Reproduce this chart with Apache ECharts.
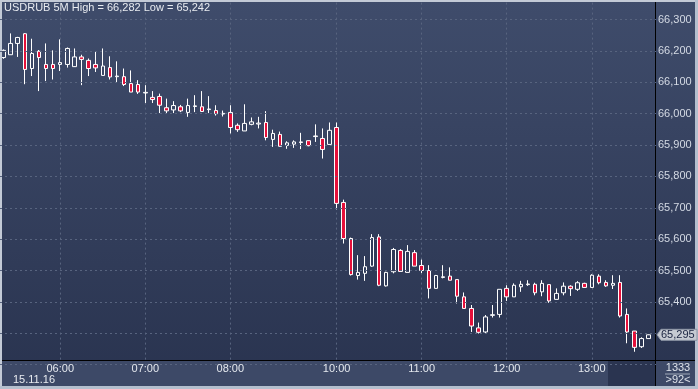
<!DOCTYPE html>
<html><head><meta charset="utf-8">
<script src="https://cdn.jsdelivr.net/npm/echarts@6/dist/echarts.min.js"></script>
<style>html,body{margin:0;padding:0;background:#2b3553;overflow:hidden}#c{width:698px;height:389px}</style>
</head><body><div id="c"></div>
<script>
const times = [
 '05:20','05:25','05:30','05:35','05:40','05:45','05:50','05:55',
 '06:00','06:05','06:10','06:15','06:20','06:25','06:30','06:35','06:40','06:45','06:50','06:55',
 '07:00','07:05','07:10','07:15','07:20','07:25','07:30','07:35','07:40','07:45','07:50','07:55',
 '08:00','08:05','08:10','08:15','08:20','08:25','08:30','08:35','08:40','08:45','08:50','08:55',
 '09:45','09:50','09:55',
 '10:00','10:05','10:10','10:15','10:20','10:25','10:30','10:35','10:40','10:45','10:50','10:55',
 '11:00','11:05','11:10','11:15','11:20','11:25','11:30','11:35','11:40','11:45','11:50','11:55',
 '12:00','12:05','12:10','12:15','12:20','12:25','12:30','12:35','12:40','12:45','12:50','12:55',
 '13:00','13:05','13:10','13:15','13:20','13:25','13:30','13:35','13:40'
];
const opens = [
 66179,66188,66224,66255,66144,66199,66157,66157,
 66157,66157,66150,66181,66170,66157,66122,66147,66118,66118,66096,66093,
 66066,66052,66055,66019,66012,66022,66004,66023,66022,66013,66010,65999,
 66004,65963,65945,65966,65967,65972,65918,65934,65899,65903,65908,65914,
 65927,65921,65902,
 65956,65717,65602,65484,65491,65514,65607,65451,65496,65564,65494,65557,
 65516,65500,65443,65478,65482,65471,65416,65379,65317,65304,65357,65360,
 65443,65416,65448,65455,65456,65432,65455,65408,65429,65450,65440,65459,
 65446,65482,65462,65453,65462,65360,65307,65257,65283
];
const closes = [
 66202,66224,66243,66141,66192,66179,66144,66144,
 66163,66208,66181,66173,66144,66146,66152,66117,66120,66093,66069,66069,
 66068,66045,66027,66009,66026,66009,66026,66025,66007,66015,66000,66001,
 65956,65949,65969,65974,65970,65924,65937,65896,65907,65910,65910,65898,
 65929,65886,65947,
 65714,65602,65487,65494,65512,65605,65453,65494,65567,65497,65561,65514,
 65500,65443,65484,65480,65469,65418,65379,65323,65303,65352,65359,65440,
 65416,65453,65456,65457,65429,65459,65403,65427,65450,65442,65461,65446,
 65485,65461,65451,65459,65355,65304,65255,65283,65295
];
const lows = [
 66175,66188,66181,66094,66120,66072,66104,66109,
 66136,66147,66149,66091,66120,66133,66122,66109,66099,66088,66069,66063,
 66034,66034,66002,66002,66002,66005,65990,66005,66007,66002,65994,65991,
 65937,65942,65945,65963,65953,65915,65894,65896,65888,65891,65887,65896,
 65910,65857,65902,
 65695,65586,65484,65471,65467,65512,65450,65449,65491,65497,65494,65514,
 65492,65411,65443,65475,65469,65395,65379,65304,65299,65299,65350,65350,
 65403,65416,65432,65451,65421,65418,65397,65408,65421,65419,65435,65446,
 65446,65456,65448,65441,65350,65268,65241,65253,65283
];
const highs = [
 66205,66256,66245,66257,66239,66203,66224,66202,
 66237,66211,66208,66188,66176,66199,66208,66183,66167,66144,66138,66107,
 66091,66072,66064,66048,66040,66028,66048,66059,66072,66056,66027,66010,
 66027,65969,66030,65988,65990,66008,65949,65943,65912,65915,65939,65915,
 65966,65953,65972,
 65972,65726,65605,65549,65546,65616,65616,65496,65572,65568,65581,65565,
 65535,65517,65486,65517,65510,65471,65430,65390,65334,65358,65390,65440,
 65453,65459,65467,65469,65461,65469,65455,65443,65462,65453,65466,65461,
 65488,65488,65469,65485,65485,65379,65307,65287,65296
];
const hourTicks = ['06:00','07:00','08:00','10:00','11:00','12:00','13:00'];
const titleText = 'USDRUB 5M High = 66,282 Low = 65,242';
const lastPrice = 65295;
const dateLabel = '15.11.16';
const barCountLabel = '1333';
const visibleLabel = '>92<';

const FONT = "'Liberation Sans Narrow','Arial Narrow','Liberation Sans',Arial,sans-serif";
function fmt(v){ const s = String(Math.round(v)); return s.slice(0,-3)+','+s.slice(-3); }

const candleData = opens.map((o,i)=>[o, closes[i], lows[i], highs[i]]);

const chart = echarts.init(document.getElementById('c'), null, {renderer:'canvas'});
const GRID_TOP = 19.6, GRID_BOTTOM = 24.4;
const option = {
  animation:false,
  backgroundColor:{type:'linear',x:0,y:0,x2:0,y2:1,colorStops:[{offset:0,color:'#3f4c6b'},{offset:1,color:'#29334f'}]},
  grid:[
    {left:0, width:652, top:GRID_TOP, bottom:GRID_BOTTOM},
    {left:0, right:42, top:GRID_TOP, bottom:GRID_BOTTOM},
    {left:0, width:652, top:2, bottom:GRID_BOTTOM}
  ],
  xAxis:[
    {type:'category', gridIndex:0, data:times, boundaryGap:true, z:60,
     axisLine:{show:false}, axisTick:{show:false}, splitLine:{show:false},
     axisLabel:{show:false}},
    {type:'value', gridIndex:1, show:false, min:0, max:1},
    {type:'category', gridIndex:2, data:times, boundaryGap:true, z:60,
     axisLine:{show:false}, axisTick:{show:false}, splitLine:{show:false},
     axisLabel:{interval:(i,v)=>hourTicks.includes(v), color:'#e4e8ee', fontFamily:FONT, fontSize:11, margin:-1}}
  ],
  yAxis:[
    {type:'value', gridIndex:0, min:65200, max:66300, interval:100, show:false},
    {type:'value', gridIndex:1, position:'right', min:65200, max:66300, interval:100, z:60,
     axisLine:{show:false}, axisTick:{show:false},
     splitLine:{show:true, lineStyle:{color:'#58647f', type:[2,3], width:1}},
     axisLabel:{margin:2, color:'#d4dae4', fontFamily:FONT, fontSize:11,
       formatter:v=> (v===65300||v===65200)?'':fmt(v)}},
    {type:'value', gridIndex:2, min:0, max:1, show:false}
  ],
  series:[
    {type:'line', xAxisIndex:2, yAxisIndex:2, data:times.map(()=>null), symbol:'none', silent:true,
     markLine:{silent:true, symbol:['none','none'], label:{show:false},
       lineStyle:{color:'#58647f', type:[2,3], width:1},
       data: hourTicks.map(t=>({xAxis:t}))}},
    {type:'candlestick', xAxisIndex:0, yAxisIndex:0, data:candleData, barWidth:4, z:5,
     itemStyle:{color:'transparent', color0:'#e5103a', borderColor:'#ffffff', borderColor0:'#ffffff', borderWidth:1}}
  ]
};
chart.setOption(option);

const py = chart.convertToPixel({yAxisIndex:0}, lastPrice);
chart.setOption({graphic:[
  {type:'rect', z:50, shape:{x:0,y:360,width:698,height:29}, style:{fill:'#3d4967'}},
  {type:'rect', z:51, shape:{x:608,y:361,width:47,height:25}, style:{fill:'#2a3450'}},
  {type:'rect', z:52, shape:{x:0,y:360,width:698,height:1}, style:{fill:'#000000'}},
  {type:'rect', z:52, shape:{x:655,y:0,width:1,height:387}, style:{fill:'#000000'}},
  {type:'rect', z:53, shape:{x:0,y:0,width:698,height:2}, style:{fill:'#c3cad6'}},
  {type:'rect', z:53, shape:{x:0,y:0,width:2,height:389}, style:{fill:'#c3cad6'}},
  {type:'rect', z:53, shape:{x:695,y:0,width:3,height:389}, style:{fill:'#b4bfce'}},
  {type:'rect', z:53, shape:{x:0,y:386,width:698,height:3}, style:{fill:'#b4bfce'}},
  {type:'text', z:55, x:4, y:8, style:{text:titleText, fill:'#e8ebf0', font:'11px '+FONT, verticalAlign:'middle'}},
  {type:'text', z:55, x:13, y:380, style:{text:dateLabel, fill:'#e8ebf0', font:'11px '+FONT, verticalAlign:'middle'}},
  {type:'text', z:55, x:678, y:367.5, style:{text:barCountLabel, fill:'#dde2ea', font:'11px '+FONT, align:'center', verticalAlign:'middle'}},
  {type:'rect', z:55, shape:{x:665,y:373.5,width:25,height:1}, style:{fill:'#a0aabb'}},
  {type:'text', z:55, x:678, y:380, style:{text:visibleLabel, fill:'#dde2ea', font:'11px '+FONT, align:'center', verticalAlign:'middle'}},
  {type:'polygon', z:56, shape:{points:[[657,py],[661,py-5.5],[697,py-5.5],[697,py+5.5],[661,py+5.5]]}, style:{fill:'#c6cad2', stroke:'#8e96a6', lineWidth:1}},
  {type:'text', z:57, x:661, y:py, style:{text:fmt(lastPrice), fill:'#1a2340', font:'11px '+FONT, verticalAlign:'middle'}}
]});
</script></body></html>
